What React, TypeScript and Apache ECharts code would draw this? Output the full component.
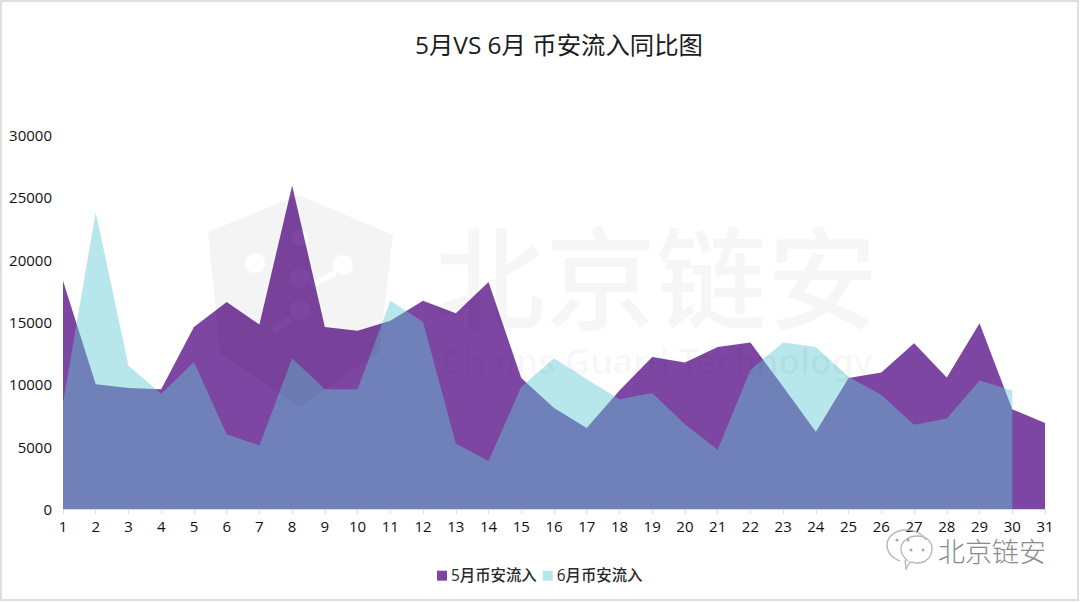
import React, { useEffect, useRef } from "react";
import * as echarts from "echarts";

const days = Array.from({ length: 31 }, (_, i) => String(i + 1));
const mayValues = [18300, 10000, 9700, 9600, 14600, 16600, 14800, 25950, 14600, 14300, 15100, 16700, 15700, 18200, 10500, 8100, 6500, 9500, 12200, 11750, 13000, 13350, 9800, 6200, 10500, 10950, 13300, 10550, 14900, 8000, 6900];
const juneValues: (number | null)[] = [8500, 23800, 11500, 9250, 11800, 6000, 5100, 12100, 9600, 9600, 16700, 15000, 5250, 3850, 9800, 12100, 10400, 8800, 9300, 6800, 4750, 11150, 13350, 13000, 10600, 9150, 6750, 7250, 10300, 9500, null];
const mayName = "5月币安流入";
const juneName = "6月币安流入";
const titleText = "5月VS 6月 币安流入同比图";

const circleHole = (cx: number, cy: number, r: number) =>
  `M${cx - r} ${cy}A${r} ${r} 0 1 0 ${cx + r} ${cy}A${r} ${r} 0 1 0 ${cx - r} ${cy}Z`;
const shieldPath =
  "M299 195L393 235L379 353L299 407L220 353L208 232Z" +
  circleHole(255, 263, 10) +
  circleHole(343, 265, 10) +
  circleHole(300, 238, 8) +
  circleHole(300, 278, 10) +
  circleHole(300, 310, 10) +
  "M260 273L266 273L272 330L266 330Z" +
  "M334 270L309 283L312 288L337 275Z" +
  "M289 316L272 328L275 333L292 321Z" +
  "M310 312L338 320L337 326L309 318Z";

echarts.graphic.registerShape("shieldMark", echarts.graphic.extendPath(shieldPath, {}));

const wechatPath =
  "M900 561C890 557 887 551 887 545C887 536 896 530 906 530C915 530 923 534 926 540" +
  "M908 561C903 557 901 553 901 549C901 541 909 536 917 536C926 536 932 541 932 549C932 557 926 563 917 563C914 563 912 562 910 562L906 569L905 560";
echarts.graphic.registerShape("wechatMark", echarts.graphic.extendPath(wechatPath, {}));

const cjk = '"Open Sans", "Noto Sans CJK SC", sans-serif';

export default function App() {
  const ref = useRef<HTMLDivElement>(null);
  useEffect(() => {
    const chart = echarts.init(ref.current!, null, { renderer: "svg" });
    chart.setOption({
      animation: false,
      backgroundColor: "#ffffff",
      textStyle: { fontFamily: cjk },
      title: {
        text: titleText,
        left: 410,
        top: 27,
        textStyle: { fontSize: 24.4, fontWeight: "normal", color: "#1c1c1c", fontFamily: cjk },
      },
      legend: {
        top: 563,
        left: 432,
        icon: "rect",
        itemWidth: 10,
        itemHeight: 10,
        itemGap: 6,
        textStyle: { fontSize: 15.4, fontWeight: 500, color: "#2a2a2a", fontFamily: cjk, padding: [0, 0, 0, -1] },
        data: [
          { name: mayName, itemStyle: { color: "#7e46a3" } },
          { name: juneName, itemStyle: { color: "#b8e6ea" } },
        ],
      },
      grid: { left: 63, right: 35, top: 135, bottom: 93, containLabel: false },
      xAxis: {
        type: "category",
        data: days,
        boundaryGap: false,
        axisLine: { lineStyle: { color: "#d9d9e3", width: 1 } },
        axisTick: { show: true, length: 5, lineStyle: { color: "#d9d9e3" } },
        axisLabel: { interval: 0, fontSize: 15, color: "#111", margin: 9 },
        splitLine: { show: false },
      },
      yAxis: {
        type: "value",
        min: 0,
        max: 30000,
        interval: 5000,
        axisLine: { show: false },
        axisTick: { show: false },
        axisLabel: { fontSize: 15, color: "#111", margin: 11, formatter: (v: number) => String(v), verticalAlign: "middle", lineHeight: 15, padding: [0, 0, 2, 0] },
        splitLine: { show: false },
      },
      series: [
        {
          name: mayName,
          type: "line",
          data: mayValues,
          showSymbol: false,
          lineStyle: { width: 0 },
          itemStyle: { color: "#7e46a3" },
          areaStyle: { color: "#7e46a3", opacity: 1 },
        },
        {
          name: juneName,
          type: "line",
          data: juneValues,
          showSymbol: false,
          lineStyle: { width: 0 },
          itemStyle: { color: "#5fc7d2" },
          areaStyle: { color: "#5fc7d2", opacity: 0.45 },
        },
      ],
      graphic: [
        { type: "shieldMark", x: 0, y: 0, z: 50, silent: true, style: { fill: "rgba(0,0,0,0.045)" } },
        {
          type: "text", x: 434, y: 217, z: 50, silent: true,
          style: { text: "北京链安", fontSize: 111, fontFamily: '"Noto Sans CJK SC"', fontWeight: 500, fill: "rgba(0,0,0,0.035)" },
        },
        {
          type: "text", x: 441, y: 343, z: 50, silent: true,
          style: { text: "Chains Guard Technology", fontSize: 35, fontFamily: '"Noto Sans"', fontWeight: 600, fill: "rgba(0,0,0,0.035)" },
        },
        { type: "wechatMark", x: 0, y: 0, z: 50, silent: true, style: { fill: "none", stroke: "#b5b5b5", lineWidth: 1.3 } },
        { type: "circle", z: 50, silent: true, shape: { cx: 897, cy: 540, r: 1.5 }, style: { fill: "#aaa" } },
        { type: "circle", z: 50, silent: true, shape: { cx: 908, cy: 540, r: 1.5 }, style: { fill: "#aaa" } },
        { type: "circle", z: 50, silent: true, shape: { cx: 911, cy: 550, r: 1.5 }, style: { fill: "#aaa" } },
        { type: "circle", z: 50, silent: true, shape: { cx: 923, cy: 550, r: 1.5 }, style: { fill: "#aaa" } },
        {
          type: "text", x: 938, y: 537, z: 50, silent: true,
          style: { text: "北京链安", fontSize: 27, fontFamily: '"Noto Sans CJK SC"', fontWeight: 300, fill: "#8a8a8a" },
        },
        {
          type: "rect", z: 60, silent: true,
          shape: { x: 1, y: 1, width: 1077, height: 599 },
          style: { fill: "none", stroke: "#dedede", lineWidth: 2 },
        },
      ],
    });
    return () => chart.dispose();
  }, []);
  return <div ref={ref} style={{ position: "absolute", left: 0, top: 0, width: 1080, height: 602 }} />;
}
